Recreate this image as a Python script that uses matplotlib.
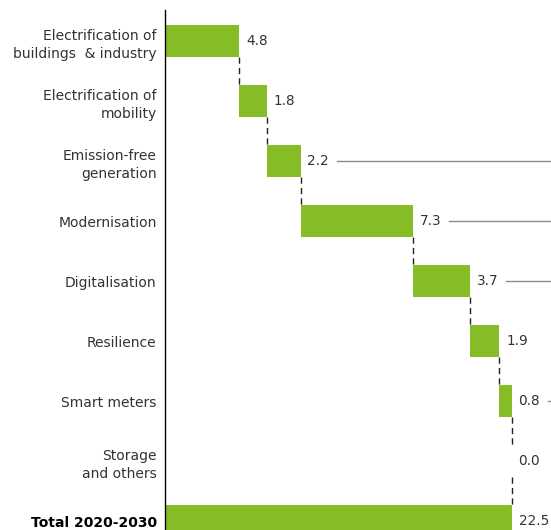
import matplotlib.pyplot as plt
import numpy as np

# Investment needs per category (bn EUR), 2020-2030
categories = ["Electrification of\nbuildings  & industry",
              "Electrification of\nmobility",
              "Emission-free\ngeneration",
              "Modernisation",
              "Digitalisation",
              "Resilience",
              "Smart meters",
              "Storage\nand others",
              "Total 2020-2030"]
values = [4.8, 1.8, 2.2, 7.3, 3.7, 1.9, 0.8, 0.0]
total = 22.5

# rows that get a grey leader line to the right of the value label
leader_rows = [2, 3, 4, 6]

green = "#86bc25"
text_col = "#333333"

fig = plt.figure(figsize=(5.51, 5.30), dpi=100)
ax = fig.add_axes([165 / 551, 0, 386 / 551, 520 / 530])

starts = np.concatenate([[0], np.cumsum(values)[:-1]])
ends = np.cumsum(values)
rows = np.arange(len(categories))
h = 0.54

ax.barh(rows[:-1], values, left=starts, height=h, color=green)
ax.barh(rows[-1], total, left=0, height=h, color=green)

# dashed connectors between consecutive bars
for i in range(len(values)):
    x = ends[i]
    ax.plot([x, x], [i + h / 2, i + 1 - h / 2], color="#222222", lw=1,
            linestyle=(0, (4.5, 3)))

# value labels
for i, v in enumerate(values):
    ax.annotate(f"{v:.1f}", (ends[i], i), xytext=(5, 0), textcoords="offset points",
                va="center", ha="left", fontsize=9.8, color=text_col)
ax.annotate(f"{total:.1f}", (total, rows[-1]), xytext=(5, 0), textcoords="offset points",
            va="center", ha="left", fontsize=9.8, color=text_col)

# grey leader lines
for i in leader_rows:
    ax.plot([ends[i] + 2.35, 30], [i, i], color="#8c8c8c", lw=1, clip_on=True)

ax.set_xlim(0, 25.06)
ax.set_ylim(8.15, -0.517)
ax.set_yticks(rows)
ax.set_yticklabels(categories, fontsize=10, color=text_col, linespacing=1.45)
ax.get_yticklabels()[-1].set_fontweight("bold")
ax.get_yticklabels()[-1].set_color("black")
ax.tick_params(axis="y", length=0, pad=6)
ax.set_xticks([])
for s in ["top", "right", "bottom"]:
    ax.spines[s].set_visible(False)
ax.spines["left"].set_color("black")
ax.spines["left"].set_linewidth(1)

fig.savefig("out.png", dpi=100)
